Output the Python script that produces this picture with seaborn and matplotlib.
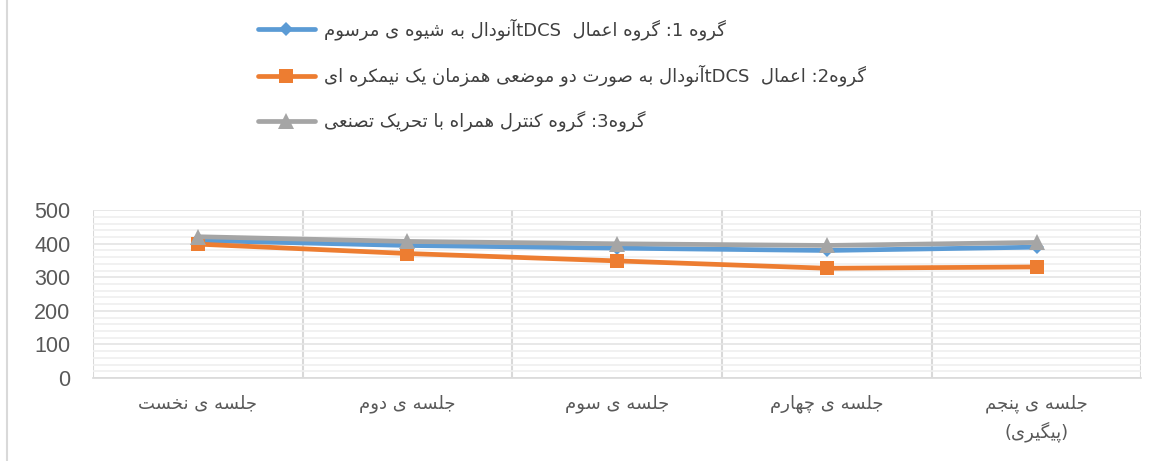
import re

import numpy as np
import pandas as pd
import matplotlib as mpl
mpl.use("Agg")
import matplotlib.pyplot as plt
import seaborn as sns
from matplotlib.lines import Line2D

# Data
sessions = ["جلسه ی نخست", "جلسه ی دوم", "جلسه ی سوم", "جلسه ی چهارم", "جلسه ی پنجم\n(پیگیری)"]
group1 = [410, 395, 387, 380, 390]
group2 = [399, 371, 349, 327, 331]
group3 = [421, 407, 400, 395, 404]
group_names = [
    "گروه 1: گروه اعمال  tDCSآنودال به شیوه ی مرسوم",
    "گروه2: اعمال  tDCSآنودال به صورت دو موضعی همزمان یک نیمکره ای",
    "گروه3: گروه کنترل همراه با تحریک تصنعی",
]
colors = ["#5B9BD5", "#ED7D31", "#A5A5A5"]
markers = ["D", "s", "^"]
msizes = [7.5, 10.5, 11]

# matplotlib has no Arabic shaping: pick presentation forms by hand
FORMS = {
    "ا": ("\uFE8D", "\uFE8E"), "آ": ("\uFE81", "\uFE82"),
    "د": ("\uFEA9", "\uFEAA"), "ر": ("\uFEAD", "\uFEAE"),
    "ز": ("\uFEAF", "\uFEB0"), "و": ("\uFEED", "\uFEEE"),
    "ب": ("\uFE8F", "\uFE90", "\uFE91", "\uFE92"),
    "پ": ("\uFB56", "\uFB57", "\uFB58", "\uFB59"),
    "ت": ("\uFE95", "\uFE96", "\uFE97", "\uFE98"),
    "ج": ("\uFE9D", "\uFE9E", "\uFE9F", "\uFEA0"),
    "چ": ("\uFB7A", "\uFB7B", "\uFB7C", "\uFB7D"),
    "ح": ("\uFEA1", "\uFEA2", "\uFEA3", "\uFEA4"),
    "خ": ("\uFEA5", "\uFEA6", "\uFEA7", "\uFEA8"),
    "س": ("\uFEB1", "\uFEB2", "\uFEB3", "\uFEB4"),
    "ش": ("\uFEB5", "\uFEB6", "\uFEB7", "\uFEB8"),
    "ص": ("\uFEB9", "\uFEBA", "\uFEBB", "\uFEBC"),
    "ض": ("\uFEBD", "\uFEBE", "\uFEBF", "\uFEC0"),
    "ع": ("\uFEC9", "\uFECA", "\uFECB", "\uFECC"),
    "ک": ("\uFB8E", "\uFB8F", "\uFB90", "\uFB91"),
    "گ": ("\uFB92", "\uFB93", "\uFB94", "\uFB95"),
    "ل": ("\uFEDD", "\uFEDE", "\uFEDF", "\uFEE0"),
    "م": ("\uFEE1", "\uFEE2", "\uFEE3", "\uFEE4"),
    "ن": ("\uFEE5", "\uFEE6", "\uFEE7", "\uFEE8"),
    "ه": ("\uFEE9", "\uFEEA", "\uFEEB", "\uFEEC"),
    "ی": ("\uFBFC", "\uFBFD", "\uFBFE", "\uFBFF"),
}
MIRROR = {"(": ")", ")": "("}


def shape(s):
    out = []
    for i, c in enumerate(s):
        if c not in FORMS:
            out.append(c)
            continue
        f = FORMS[c]
        prev = s[i - 1] if i > 0 else ""
        nxt = s[i + 1] if i + 1 < len(s) else ""
        jp = prev in FORMS and len(FORMS[prev]) == 4
        jn = len(f) == 4 and nxt in FORMS
        if jp and jn:
            out.append(f[3])
        elif jp:
            out.append(f[1])
        elif jn:
            out.append(f[2])
        else:
            out.append(f[0])
    return "".join(out)


def fa(text):
    lines = []
    for line in text.split("\n"):
        runs = re.findall(r"[A-Za-z0-9]+|[^A-Za-z0-9]+", shape(line))
        vis = []
        for r in reversed(runs):
            if re.match(r"[A-Za-z0-9]", r):
                vis.append(r)
            else:
                vis.append("".join(MIRROR.get(c, c) for c in reversed(r)))
        lines.append("".join(vis))
    return "\n".join(lines)


df = pd.DataFrame({
    "session": [fa(s) for s in sessions] * 3,
    "value": group1 + group2 + group3,
    "group": np.repeat([0, 1, 2], len(sessions)),
})

sns.set_theme(style="white")
plt.rcParams["font.family"] = ["DejaVu Sans"]

fig = plt.figure(figsize=(11.6, 4.61), dpi=100)
ax = fig.add_axes([0.080, 0.180, 0.904, 0.364])

handles = []
for g in range(3):
    sub = df[df["group"] == g]
    sns.lineplot(data=sub, x="session", y="value", ax=ax, sort=False,
                 color=colors[g], linewidth=3.4, marker=markers[g],
                 markersize=msizes[g], markeredgewidth=0, zorder=3 + g)
    handles.append(Line2D([], [], color=colors[g], linewidth=3.4, marker=markers[g],
                          markersize=msizes[g], markeredgewidth=0))

ax.set_xlim(-0.5, len(sessions) - 0.5)
ax.set_ylim(0, 500)
ax.set_yticks(np.arange(0, 501, 100))
ax.set_yticks(np.arange(0, 501, 20), minor=True)
ax.set_xticks(np.arange(-0.5, len(sessions)), minor=True)
ax.grid(axis="y", which="minor", color="#efefef", linewidth=1.2)
ax.grid(axis="y", which="major", color="#e4e4e4", linewidth=1.2)
ax.grid(axis="x", which="minor", color="#d9d9d9", linewidth=1.5)
ax.grid(axis="x", which="major", visible=False)
ax.set_axisbelow(True)

for side in ["top", "right", "left"]:
    ax.spines[side].set_visible(False)
ax.spines["bottom"].set_color("#d9d9d9")
ax.spines["bottom"].set_linewidth(1.2)

ax.tick_params(axis="both", which="both", length=0)
ax.tick_params(axis="y", labelsize=15.5, labelcolor="#595959", pad=16)
ax.tick_params(axis="x", labelsize=13, labelcolor="#595959", pad=12)
for t in ax.get_yticklabels():
    t.set_fontfamily("Liberation Sans")
for t in ax.get_xticklabels():
    t.set_linespacing(1.5)
ax.set_xlabel("")
ax.set_ylabel("")

leg = fig.legend(handles, [fa(n) for n in group_names], loc="upper left",
                 bbox_to_anchor=(0.208, 0.995), frameon=False, fontsize=13,
                 handlelength=3.2, handletextpad=0.5, labelspacing=1.35)
for t in leg.get_texts():
    t.set_color("#404040")

# left edge of the chart frame
fig.add_artist(Line2D([0.006, 0.006], [0, 1], color="#d9d9d9", linewidth=1.5,
                      transform=fig.transFigure))

fig.savefig("out.png", dpi=100)
